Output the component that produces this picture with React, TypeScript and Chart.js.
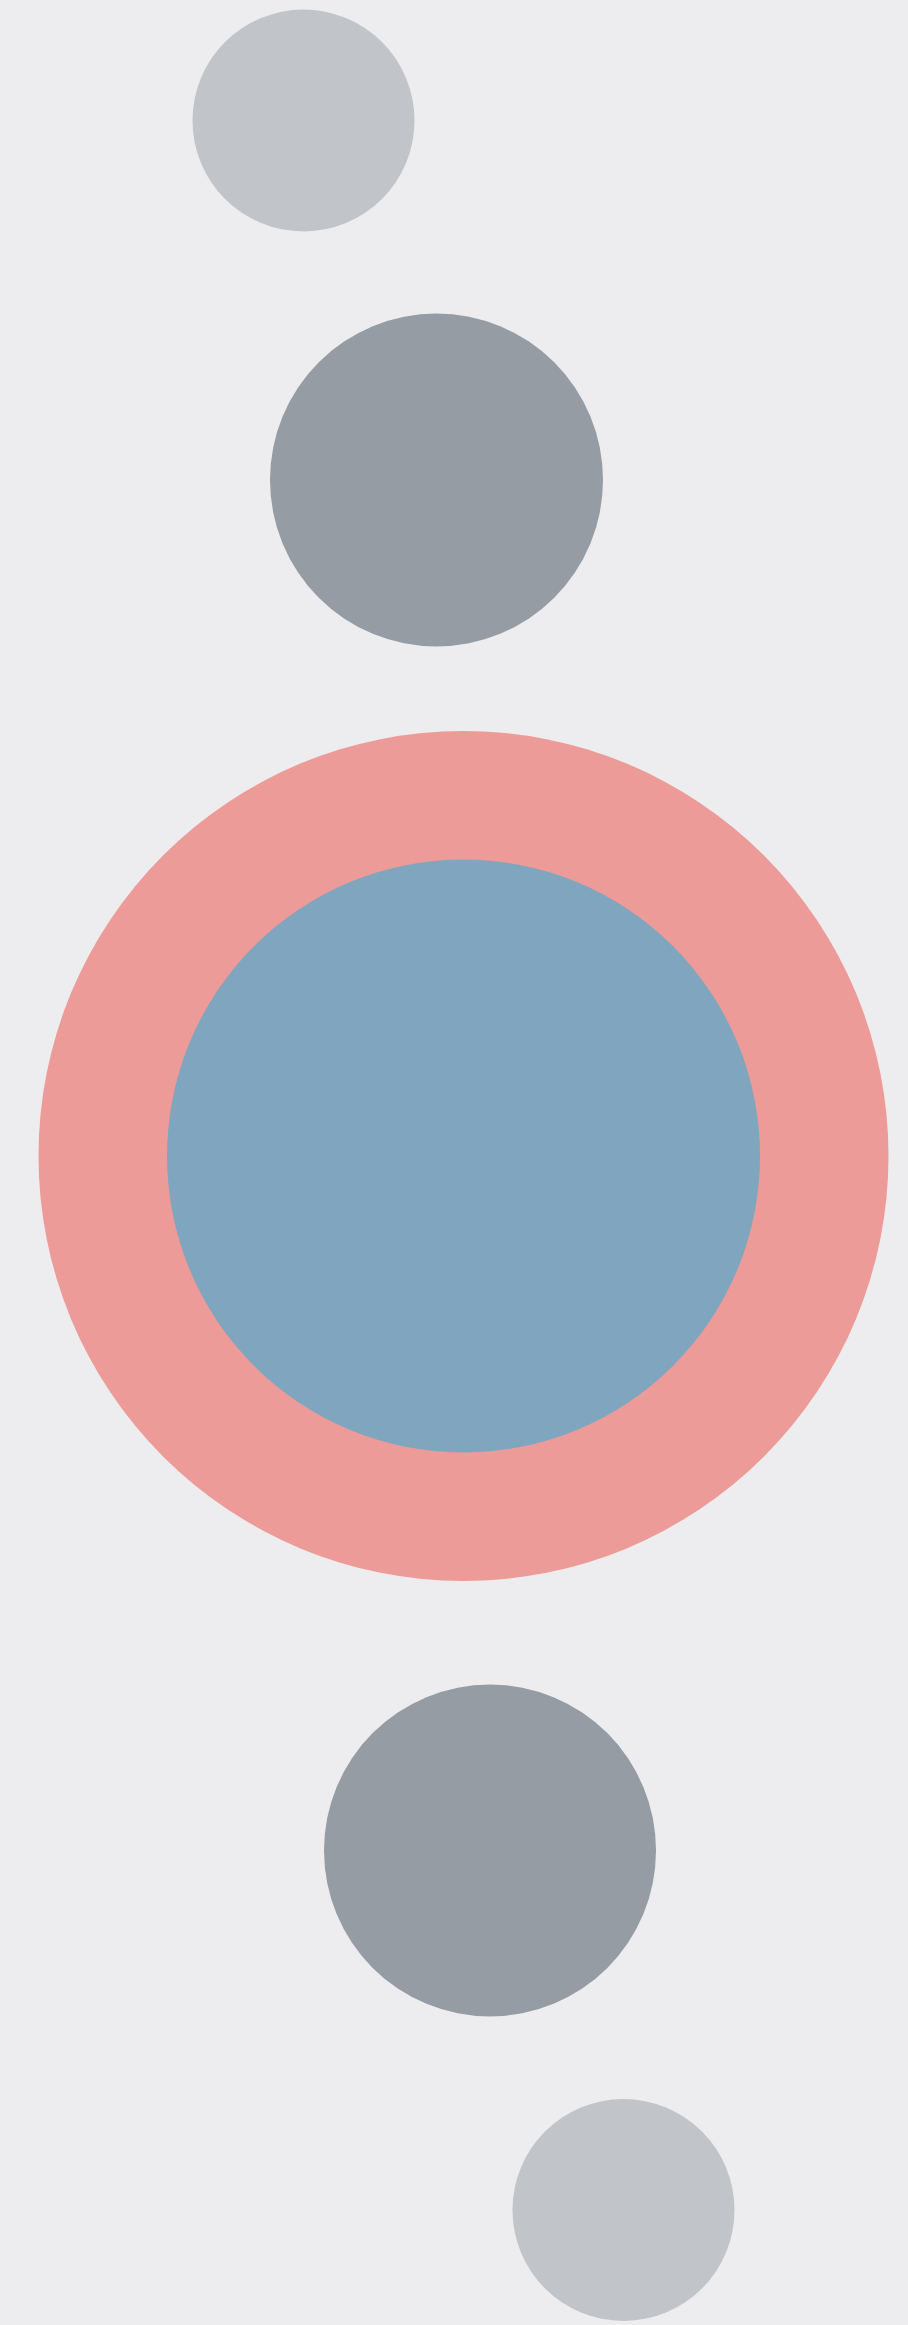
import React, { useEffect, useRef } from "react";
import { Chart, registerables } from "chart.js";

Chart.register(...registerables);

// Circle data (x/y in data units centred on the main circle, r = radius)
const labels = ["top", "upper", "outer", "inner", "lower", "bottom"];
const xValues = [-160, -27, 0, 0, 26.5, 160];
const yValues = [1035.5, 676, 0, 0, -694.5, -1054];
const radii = [111, 166.5, 425, 296.5, 166, 111];
const colors = ["#c1c4c8", "#959ca4", "#ed9b98", "#80a5bf", "#959ca4", "#c1c4c8"];

const X_MIN = -463.5;
const X_MAX = 444.5;
const Y_MIN = -1169;
const Y_MAX = 1156;

export default function App() {
  const ref = useRef<HTMLCanvasElement | null>(null);

  useEffect(() => {
    document.body.style.margin = "0";
    document.body.style.background = "#ededf0";
    const canvas = ref.current;
    if (!canvas) return;
    const chart = new Chart(canvas, {
      type: "bubble",
      data: {
        labels,
        datasets: [
          {
            label: "circles",
            data: xValues.map((x, i) => ({ x, y: yValues[i], r: radii[i] })),
            backgroundColor: colors,
            borderWidth: 0,
            hoverRadius: 0,
            clip: false as any,
          },
        ],
      },
      options: {
        responsive: false,
        animation: false,
        devicePixelRatio: 1,
        events: [],
        layout: { padding: 0, autoPadding: false },
        plugins: {
          legend: { display: false },
          tooltip: { enabled: false },
        },
        scales: {
          x: { type: "linear", min: X_MIN, max: X_MAX, display: false },
          y: { type: "linear", min: Y_MIN, max: Y_MAX, display: false },
        },
      },
    });
    return () => chart.destroy();
  }, []);

  return (
    <div style={{ width: 908, height: 2325, background: "#ededf0" }}>
      <canvas ref={ref} width={908} height={2325} style={{ display: "block" }} />
    </div>
  );
}
